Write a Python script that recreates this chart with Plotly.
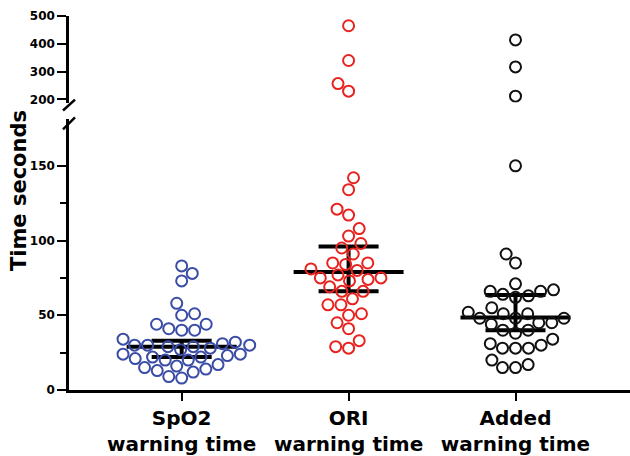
import plotly.graph_objects as go

# ---------------- data ----------------
categories = ["SpO2<br>warning time", "ORI<br>warning time", "Added<br>warning time"]

spo2_times = [83, 78, 73, 58, 50, 51, 44, 44, 41, 40, 40, 32, 34, 27, 29, 30, 30, 29, 28,
              30, 31, 24, 22, 23, 21, 22, 24, 20, 20, 17, 15, 12, 13, 16, 14, 9, 8]
ori_times = [465, 340, 257, 230, 142, 134, 121, 117, 108, 103, 98, 95, 91, 81, 84, 80, 75, 74,
             85, 85, 77, 75, 73, 69, 66, 66, 61, 57, 57, 51, 50, 45, 41, 33, 28, 29]
added_times = [414, 317, 212, 150, 91, 85, 71, 64, 67, 66, 66, 63, 62, 55, 51, 51, 52, 48, 48,
               48, 45, 44, 45, 40, 38, 40, 34, 30, 28, 28, 28, 31, 20, 15, 15, 17]

medians = [29, 79, 48.5]
lower_bars = [22, 66, 40]
upper_bars = [33, 96, 63.5]

colors = ["#3a4ca6", "#e8231f", "#111111"]
groups = [spo2_times, ori_times, added_times]

# ---------------- layout geometry ----------------
W, H = 630, 456
ML, MR, MT, MB = 69, 0, 16, 64
PW, PH = W - ML - MR, H - MT - MB
XR = [-0.675, 2.686]
LOW_R = [0, 181]
LOW_DOM = [0, 272 / PH]
UP_R = [189, 500]
UP_DOM = [(PH - 87) / PH, 1]

px_per_x = PW / (XR[1] - XR[0])


def ypix(v):
    if v <= LOW_R[1]:
        return LOW_DOM[0] * PH + (v - LOW_R[0]) / (LOW_R[1] - LOW_R[0]) * (LOW_DOM[1] - LOW_DOM[0]) * PH
    return UP_DOM[0] * PH + (v - UP_R[0]) / (UP_R[1] - UP_R[0]) * (UP_DOM[1] - UP_DOM[0]) * PH


def beeswarm(vals, d=13.0):
    order = sorted(range(len(vals)), key=lambda i: vals[i])
    placed = []
    xs = [0.0] * len(vals)
    flip = -1
    for i in order:
        y = ypix(vals[i])
        cands = [0.0]
        for (px, py) in placed:
            dy = abs(py - y)
            if dy < d:
                dx = (d * d - dy * dy) ** 0.5
                cands += [px + dx, px - dx]
        cands.sort(key=lambda c: (round(abs(c), 3), -flip * c))
        for c in cands:
            if all((c - px) ** 2 + (y - py) ** 2 >= d * d - 1e-6 for px, py in placed):
                xs[i] = c
                placed.append((c, y))
                if c != 0:
                    flip = -flip
                break
    return [x / px_per_x for x in xs]


fig = go.Figure()

# summary bars (median + interval), drawn beneath the points
MED_HW = 55 / px_per_x
CAP_HW = 30 / px_per_x
for k in range(3):
    xs = [k - MED_HW, k + MED_HW, None, k - CAP_HW, k + CAP_HW, None,
          k - CAP_HW, k + CAP_HW, None, k, k]
    ys = [medians[k], medians[k], None, upper_bars[k], upper_bars[k], None,
          lower_bars[k], lower_bars[k], None, lower_bars[k], upper_bars[k]]
    fig.add_trace(go.Scatter(x=xs, y=ys, mode="lines", line=dict(color="black", width=4),
                             hoverinfo="skip", showlegend=False, xaxis="x", yaxis="y"))

for k, vals in enumerate(groups):
    offs = beeswarm(vals)
    lo = [(k + o, v) for o, v in zip(offs, vals) if v <= LOW_R[1]]
    hi = [(k + o, v) for o, v in zip(offs, vals) if v > LOW_R[1]]
    mk = dict(symbol="circle-open", size=11, color=colors[k], line=dict(width=2, color=colors[k]))
    if lo:
        fig.add_trace(go.Scatter(x=[p[0] for p in lo], y=[p[1] for p in lo], mode="markers",
                                 marker=mk, showlegend=False, xaxis="x", yaxis="y"))
    if hi:
        fig.add_trace(go.Scatter(x=[p[0] for p in hi], y=[p[1] for p in hi], mode="markers",
                                 marker=mk, showlegend=False, xaxis="x", yaxis="y2"))

FONT = "DejaVu Sans"
tickfont = dict(family=FONT, size=12, color="black", weight="bold")

fig.update_layout(
    width=W, height=H,
    margin=dict(l=ML, r=MR, t=MT, b=MB, pad=0),
    paper_bgcolor="white", plot_bgcolor="white",
    showlegend=False,
    xaxis=dict(range=XR, tickvals=[0, 1, 2], ticktext=categories, showgrid=False, zeroline=False,
               showline=True, linecolor="black", linewidth=2.5, ticks="outside", ticklen=8,
               tickwidth=2, tickcolor="black", anchor="y",
               tickfont=dict(family=FONT, size=20, color="black", weight="bold")),
    yaxis=dict(range=LOW_R, domain=LOW_DOM, tickvals=[0, 50, 100, 150], showgrid=False,
               zeroline=False, showline=True, linecolor="black", linewidth=2.5, ticks="outside",
               ticklen=9, tickwidth=2, tickcolor="black", anchor="x", tickfont=tickfont,
               minor=dict(tickvals=[25, 75, 125], ticks="outside", ticklen=6, tickwidth=2,
                          tickcolor="black", showgrid=False)),
    yaxis2=dict(range=UP_R, domain=UP_DOM, tickvals=[200, 300, 400, 500], showgrid=False,
                zeroline=False, showline=True, linecolor="black", linewidth=2.5, ticks="outside",
                ticklen=9, tickwidth=2, tickcolor="black", anchor="x", tickfont=tickfont),
)


def paper(px, py):
    return (px - ML) / PW, (H - MB - py) / PH


# axis break slashes
for (a, b) in [((63, 111), (75, 100)), ((63, 130), (75, 118))]:
    x0, y0 = paper(*a)
    x1, y1 = paper(*b)
    fig.add_shape(type="line", xref="paper", yref="paper", x0=x0, y0=y0, x1=x1, y1=y1,
                  line=dict(color="black", width=2.5))

tx, ty = paper(19, 192)
fig.add_annotation(text="Time seconds", xref="paper", yref="paper", x=tx, y=ty,
                   textangle=-90, showarrow=False, xanchor="center", yanchor="middle",
                   font=dict(family=FONT, size=21, color="black", weight="bold"))

fig.write_html("out.html")
